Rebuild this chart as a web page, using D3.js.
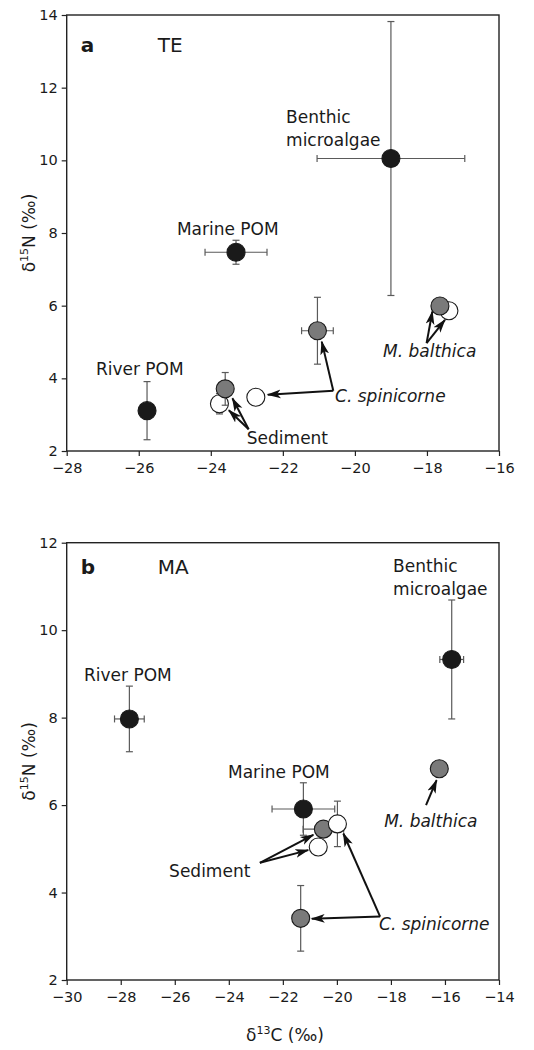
<!DOCTYPE html>
<html><head><meta charset="utf-8">
<script src="https://cdn.jsdelivr.net/npm/d3@7"></script>
<style>
body{margin:0;background:#fff;}
svg text{font-family:"DejaVu Sans",sans-serif;fill:#1a1a1a;}
</style></head>
<body><svg id="chart" width="534" height="1050"></svg>
<script>
// ---------- Panel a (TE) ----------
const xDomainA = [-28, -16];
const yDomainA = [2, 14];
const xTicksA = [-28, -26, -24, -22, -20, -18, -16];
const yTicksA = [2, 4, 6, 8, 10, 12, 14];
const kindA  = ["black","black","black","white","gray","white","gray","white","gray"];
const d13cA  = [-25.77, -23.3, -19.0, -23.76, -23.6, -22.75, -21.04, -17.39, -17.64];
const d15nA  = [3.11, 7.47, 10.05, 3.30, 3.71, 3.48, 5.31, 5.86, 5.99];
const sdCA   = [0, 0.86, 2.05, 0, 0, 0, 0.44, 0, 0];
const sdNA   = [0.80, 0.33, 3.77, 0.28, 0.45, 0, 0.92, 0, 0];
const labelTextA = ["Benthic","microalgae","Marine POM","River POM","Sediment","C. spinicorne","M. balthica"];
const labelXA    = [-21.91, -21.91, -24.94, -27.19, -23.0, -20.55, -19.22];
const labelYA    = [11.03, 10.40, 7.95, 4.10, 2.2, 3.35, 4.59];
const labelItA   = [false, false, false, false, false, true, true];
const arrowX1A = [-22.95, -22.95, -20.6, -20.6, -18.01, -18.01];
const arrowY1A = [2.6, 2.6, 3.66, 3.66, 4.97, 4.97];
const arrowX2A = [-23.4, -23.5, -22.42, -20.92, -17.85, -17.5];
const arrowY2A = [3.45, 3.12, 3.55, 5.01, 5.84, 5.61];

// ---------- Panel b (MA) ----------
const xDomainB = [-30, -14];
const yDomainB = [2, 12];
const xTicksB = [-30, -28, -26, -24, -22, -20, -18, -16, -14];
const yTicksB = [2, 4, 6, 8, 10, 12];
const kindB  = ["black","black","black","gray","gray","gray","white","white"];
const d13cB  = [-27.68, -21.24, -15.75, -16.21, -21.34, -20.5, -20.69, -19.98];
const d15nB  = [7.97, 5.91, 9.33, 6.83, 3.41, 5.45, 5.04, 5.57];
const sdCB   = [0.55, 1.16, 0.44, 0, 0, 0.75, 0, 0];
const sdNB   = [0.75, 0.6, 1.36, 0, 0.75, 0, 0, 0.52];
const labelTextB = ["Benthic","microalgae","River POM","Marine POM","M. balthica","Sediment","C. spinicorne"];
const labelXB    = [-17.92, -17.92, -29.36, -24.03, -18.25, -26.21, -18.44];
const labelYB    = [11.33, 10.80, 8.84, 6.63, 5.5, 4.36, 3.14];
const labelItB   = [false, false, false, false, true, false, true];
const arrowX1B = [-22.85, -22.85, -18.4, -18.4, -16.7];
const arrowY1B = [4.68, 4.68, 3.45, 3.45, 6.0];
const arrowX2B = [-20.87, -21.06, -19.76, -20.93, -16.31];
const arrowY2B = [5.32, 4.97, 5.35, 3.40, 6.57];

const fills = {black:"#1a1a1a", gray:"#7a7a7a", white:"#ffffff"};

const svg = d3.select("#chart");
svg.append("defs").append("marker")
  .attr("id","ah").attr("markerUnits","userSpaceOnUse")
  .attr("markerWidth",15).attr("markerHeight",10)
  .attr("refX",13).attr("refY",5).attr("orient","auto")
  .append("path").attr("d","M0,0.6 L14,5 L0,9.4 L3.5,5 Z").attr("fill","#111");

function panel(cfg){
  const {top,bottom,left,right} = cfg;
  const x = d3.scaleLinear().domain(cfg.xd).range([left,right]);
  const y = d3.scaleLinear().domain(cfg.yd).range([bottom,top]);
  const g = svg.append("g");

  // axes
  const ax = g.append("g").attr("transform",`translate(0,${bottom})`)
    .call(d3.axisBottom(x).tickValues(cfg.xt).tickSize(5).tickPadding(7)
      .tickFormat(d=>d<0?"\u2212"+Math.abs(d):d));
  const ay = g.append("g").attr("transform",`translate(${left},0)`)
    .call(d3.axisLeft(y).tickValues(cfg.yt).tickSize(5).tickPadding(4));
  [ax,ay].forEach(a=>{
    a.select(".domain").remove();
    a.selectAll(".tick line").attr("stroke","#222").attr("stroke-width",1.2);
    a.selectAll(".tick text").attr("font-size",14.5).attr("fill","#1a1a1a")
      .style("font-family","'DejaVu Sans',sans-serif");
  });
  g.append("rect").attr("x",left).attr("y",top).attr("width",right-left).attr("height",bottom-top)
    .attr("fill","none").attr("stroke","#222").attr("stroke-width",1.4);

  // y label
  const yl = g.append("text").attr("transform",`translate(35,${(top+bottom)/2}) rotate(-90)`)
    .attr("text-anchor","middle").attr("font-size",17);
  yl.append("tspan").text("\u03b4");
  yl.append("tspan").text("15").attr("font-size",11).attr("dy",-7);
  yl.append("tspan").text("N (\u2030)").attr("dy",7);

  // panel letter & site
  g.append("text").attr("x",left+14).attr("y",top+cfg.letterDy).attr("font-size",20)
    .attr("font-weight","bold").text(cfg.letter);
  g.append("text").attr("x",left+91).attr("y",top+cfg.letterDy).attr("font-size",20).text(cfg.site);

  // points
  cfg.kind.forEach((k,i)=>{
    const cx = x(cfg.c[i]), cy = y(cfg.n[i]);
    const pg = g.append("g");
    const ebColor = "#5a5a5a";
    if(cfg.sc[i]>0){
      const x0=x(cfg.c[i]-cfg.sc[i]), x1=x(cfg.c[i]+cfg.sc[i]);
      pg.append("line").attr("x1",x0).attr("x2",x1).attr("y1",cy).attr("y2",cy).attr("stroke",ebColor).attr("stroke-width",1.2);
      [x0,x1].forEach(xx=>pg.append("line").attr("x1",xx).attr("x2",xx).attr("y1",cy-3.5).attr("y2",cy+3.5).attr("stroke",ebColor).attr("stroke-width",1.2));
    }
    if(cfg.sn[i]>0){
      const y0=y(cfg.n[i]-cfg.sn[i]), y1=y(cfg.n[i]+cfg.sn[i]);
      pg.append("line").attr("x1",cx).attr("x2",cx).attr("y1",y0).attr("y2",y1).attr("stroke",ebColor).attr("stroke-width",1.2);
      [y0,y1].forEach(yy=>pg.append("line").attr("x1",cx-3.5).attr("x2",cx+3.5).attr("y1",yy).attr("y2",yy).attr("stroke",ebColor).attr("stroke-width",1.2));
    }
    pg.append("circle").attr("cx",cx).attr("cy",cy).attr("r",9)
      .attr("fill",fills[k]).attr("stroke","#1a1a1a").attr("stroke-width",1.1);
  });

  // arrows
  cfg.ax1.forEach((v,i)=>{
    g.append("line").attr("x1",x(v)).attr("y1",y(cfg.ay1[i]))
      .attr("x2",x(cfg.ax2[i])).attr("y2",y(cfg.ay2[i]))
      .attr("stroke","#111").attr("stroke-width",2).attr("marker-end","url(#ah)");
  });

  // labels
  cfg.lt.forEach((t,i)=>{
    g.append("text").attr("x",x(cfg.lx[i])).attr("y",y(cfg.ly[i])).attr("font-size",17)
      .attr("font-style",cfg.li[i]?"italic":"normal").text(t);
  });
  return {x,y};
}

panel({top:15,bottom:451,left:66.7,right:499,xd:xDomainA,yd:yDomainA,xt:xTicksA,yt:yTicksA,
  letter:"a",site:"TE",letterDy:37,kind:kindA,c:d13cA,n:d15nA,sc:sdCA,sn:sdNA,
  lt:labelTextA,lx:labelXA,ly:labelYA,li:labelItA,ax1:arrowX1A,ay1:arrowY1A,ax2:arrowX2A,ay2:arrowY2A});
panel({top:542.7,bottom:980,left:66.7,right:499,xd:xDomainB,yd:yDomainB,xt:xTicksB,yt:yTicksB,
  letter:"b",site:"MA",letterDy:31,kind:kindB,c:d13cB,n:d15nB,sc:sdCB,sn:sdNB,
  lt:labelTextB,lx:labelXB,ly:labelYB,li:labelItB,ax1:arrowX1B,ay1:arrowY1B,ax2:arrowX2B,ay2:arrowY2B});

// x label
const xl = svg.append("text").attr("x",285).attr("y",1041).attr("text-anchor","middle").attr("font-size",17);
xl.append("tspan").text("\u03b4");
xl.append("tspan").text("13").attr("font-size",11).attr("dy",-7);
xl.append("tspan").text("C (\u2030)").attr("dy",7);
</script></body></html>
